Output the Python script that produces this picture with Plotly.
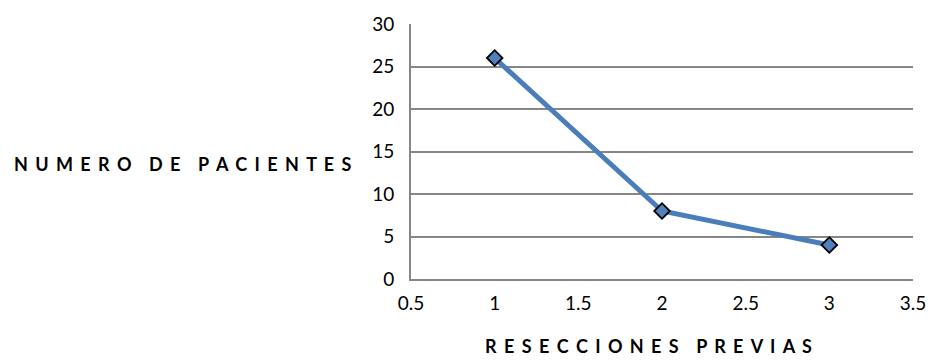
import plotly.graph_objects as go

x_vals = [1, 2, 3]
y_vals = [26, 8, 4]
x_ticks = [0.5, 1, 1.5, 2, 2.5, 3, 3.5]
x_tick_labels = ["0.5", "1", "1.5", "2", "2.5", "3", "3.5"]
y_ticks = [0, 5, 10, 15, 20, 25, 30]
x_title = "RESECCIONES PREVIAS"
y_title = "NUMERO DE PACIENTES"

def spaced(s):
    gap = "\u00a0\u2006"
    words = s.split(" ")
    return ("\u00a0" * 4).join(gap.join(w) for w in words)

FONT = "Lato, 'Open Sans', sans-serif"

fig = go.Figure()
fig.add_trace(go.Scatter(
    x=x_vals, y=y_vals, mode="lines+markers",
    line=dict(color="#4a7ebb", width=5),
    marker=dict(symbol="diamond", size=12, color="#4f81bd",
                line=dict(color="black", width=1.8)),
    showlegend=False,
))

fig.update_layout(
    width=938, height=363,
    margin=dict(l=411, r=21, t=24, b=84),
    paper_bgcolor="white", plot_bgcolor="white",
    font=dict(family=FONT, color="black", size=19),
    xaxis=dict(range=[0.5, 3.5], tickvals=x_ticks, ticktext=x_tick_labels,
               showgrid=False, zeroline=False, showline=True,
               linecolor="#868686", linewidth=2, ticks="",
               ticklabelstandoff=6, tickfont=dict(size=19)),
    yaxis=dict(range=[0, 30], tickvals=y_ticks, showgrid=True,
               gridcolor="#868686", gridwidth=2, zeroline=False,
               showline=True, linecolor="#868686", linewidth=2, ticks="",
               ticklabelstandoff=11, tickfont=dict(size=19)),
    annotations=[
        dict(text="<b>" + spaced(x_title) + "</b>", xref="paper", yref="paper",
             x=(650 - 411) / (917 - 411), y=-(346 - 279) / (279 - 24),
             xanchor="center", yanchor="middle", showarrow=False,
             font=dict(size=18, family=FONT)),
        dict(text="<b>" + spaced(y_title) + "</b>", xref="paper", yref="paper",
             x=-(411 - 181) / (917 - 411), y=(279 - 164) / (279 - 24),
             xanchor="center", yanchor="middle", showarrow=False,
             font=dict(size=18, family=FONT)),
    ],
)

fig.write_html("out.html")
